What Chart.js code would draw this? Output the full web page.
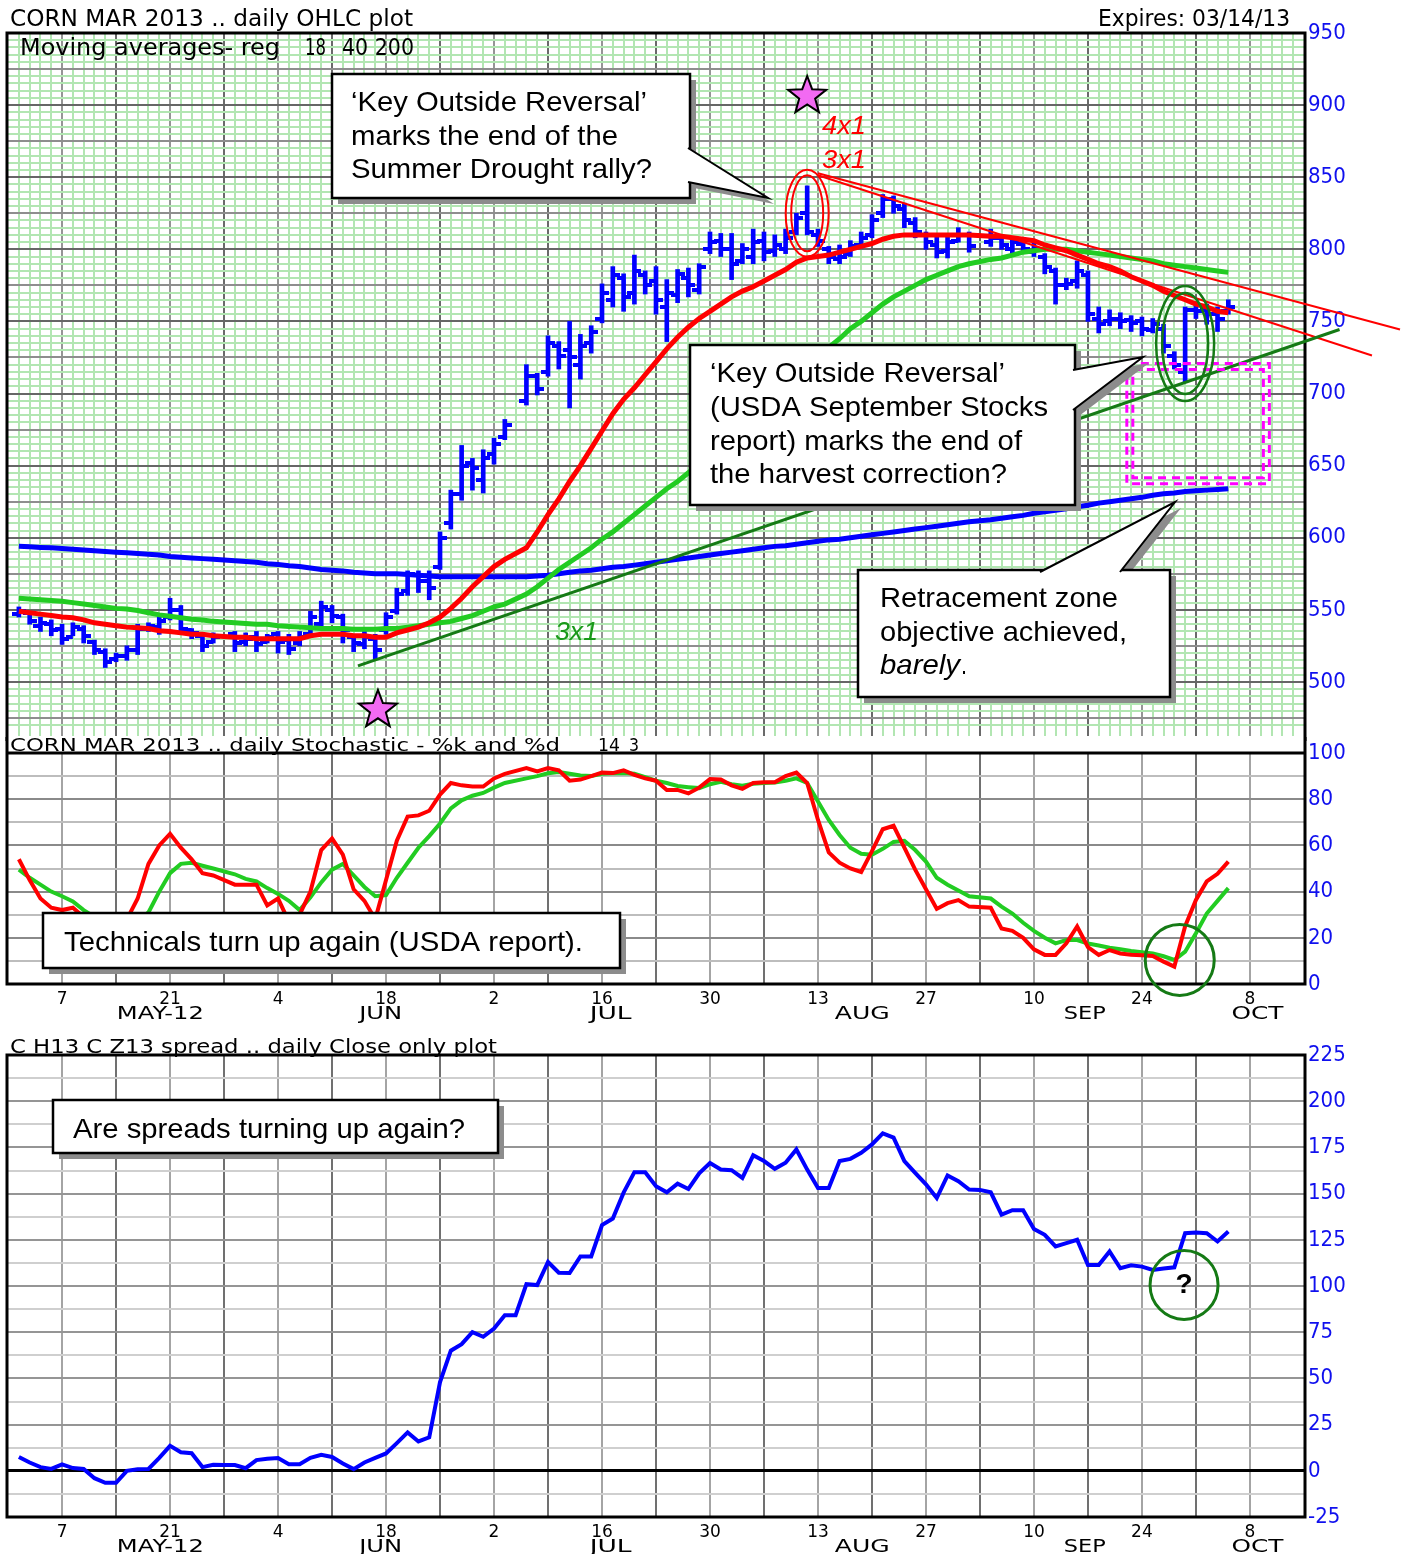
<!DOCTYPE html>
<html>
<head>
<meta charset="utf-8">
<title>Corn Mar 2013</title>
<script src="https://cdn.jsdelivr.net/npm/chart.js@4.4.1/dist/chart.umd.min.js"></script>
<style>
  html, body { margin: 0; padding: 0; background: #fff; }
  .panel { position: absolute; left: 0; width: 1406px; }
</style>
</head>
<body>
<div class="panel" style="top:0;height:741px"><canvas id="price"></canvas></div>
<div class="panel" style="top:737px;height:288px"><canvas id="stoch"></canvas></div>
<div class="panel" style="top:1030px;height:524px"><canvas id="spread"></canvas></div>
<script>
// x axis = weekday index, 0 = Mon 7 May 2012; first bar is Tue 1 May
const startIndex = -4;

const highs = [
  552, 549, 545, 543, 540, 541, 539, 529, 523, 520,
  525, 540, 541, 545, 558, 553, 537, 533, 534, null,
  535, 534, 535, 533, 535, 533, 535, 549, 556, 553,
  547, 533, 535, 533, 548, 565, 577, 577, 577, 604,
  633, 664, 655, 661, 669, 682, null, 720, 714, 740,
  736, 750, 741, 747, 776, 788, 783, 796, 785, 788,
  779, 786, 787, 790, 812, 811, 811, 804, 814, 812,
  810, 814, 825, 844, 814, 802, 803, 806, 812, 824,
  838, 837, 832, 822, 812, 809, 809, 815, 812, null,
  814, 810, 808, 806, 805, 797, 787, 780, 792, 785,
  760, 758, 756, 754, 753, 752, 748, 729, 760, 762,
  762, 760, 765
];
const lows = [
  545, 540, 535, 532, 526, 532, 527, 519, 510, 514,
  515, 519, 535, 533, 543, 533, 530, 521, 527, null,
  521, 525, 521, 527, 520, 519, 525, 531, 538, 541,
  527, 521, 523, 516, 533, 547, 560, 562, 557, 578,
  606, 626, 633, 631, 651, 668, null, 692, 699, 712,
  717, 690, 710, 728, 749, 760, 757, 762, 769, 755,
  736, 763, 767, 769, 797, 795, 779, 790, 790, 792,
  795, 797, 810, 810, 802, 790, 790, 795, 801, 808,
  822, 825, 815, 808, 800, 794, 794, 805, 798, null,
  802, 800, 797, 798, 795, 783, 762, 772, 773, 750,
  742, 747, 745, 743, 740, 742, 728, 717, 708, 752,
  748, 743, 755
];
const opens = [
  547, 548, 539, 540, 537, 531, 537, 528, 521, 516,
  518, 522, 537, 538, 545, 550, 536, 532, 528, null,
  533, 528, 531, 528, 533, 529, 527, 533, 540, 550,
  545, 531, 526, 530, 536, 549, 563, 574, 570, 580,
  610, 630, 652, 640, 658, 670, null, 695, 712, 715,
  733, 730, 720, 735, 752, 765, 780, 770, 782, 778,
  760, 768, 780, 772, 800, 806, 800, 792, 795, 806,
  799, 800, 812, 825, 810, 800, 793, 797, 803, 810,
  825, 835, 828, 818, 810, 803, 799, 806, 810, null,
  805, 808, 800, 804, 798, 795, 785, 775, 778, 782,
  752, 750, 752, 751, 750, 744, 745, 726, 715, 758,
  758, 755, 757
];
const closes = [
  549, 542, 541, 536, 530, 538, 532, 522, 514, 518,
  522, 537, 539, 542, 550, 537, 534, 525, 531, null,
  527, 530, 526, 531, 528, 523, 531, 545, 552, 546,
  536, 527, 531, 522, 545, 561, 575, 570, 565, 600,
  630, 650, 648, 655, 665, 678, null, 712, 703, 735,
  726, 725, 733, 743, 770, 782, 767, 785, 775, 765,
  770, 783, 775, 788, 805, 800, 790, 800, 805, 798,
  803, 808, 822, 812, 806, 795, 795, 802, 808, 820,
  835, 830, 820, 812, 805, 798, 805, 810, 802, null,
  808, 803, 805, 800, 800, 788, 775, 776, 785, 755,
  748, 752, 750, 749, 745, 748, 733, 720, 758, 757,
  755, 752, 760
];
const ma18 = [
  549, 548, 547, 546, 545, 544.5, 543, 541, 540, 539,
  538, 537.5, 537, 535.5, 535, 534, 533, 533, 532, null,
  531, 531, 530, 530, 530, 530, 530, 532, 533, 533,
  533, 532, 532, 531, 531, 534, 536, 538, 541, 545,
  551, 558, 566, 573, 580, 585, null, 593, 604, 616,
  627, 639, 650, 662, 674, 686, 696, 704, 713, 722,
  731, 739, 746, 752, 757, 762, 767, 771, 774, 778,
  782, 786, 791, 794, 795, 796, 798, 800, 802, 804,
  807, 809, 810, 810, 810, 810, 810, 810, 810, null,
  809, 809, 808, 807, 806, 803, 801, 799, 796, 793,
  790, 788, 785, 781, 778, 775, 771, 768, 765, 762,
  760, 757, 756
];
const ma40 = [
  558, 557.5, 557, 556.5, 556, 555, 554, 553, 552, 551,
  550.5, 549.5, 548, 546.5, 545.5, 544.5, 543.5, 543, 542, null,
  541, 540.5, 540, 540, 539, 538.5, 538, 537.5, 537, 537,
  537, 536.5, 536.5, 536.5, 537, 537, 538, 539, 540, 541,
  542, 544, 546, 549, 552, 554, null, 561, 566, 572,
  578, 583, 588, 593, 599, 604, 610, 616, 622, 628,
  634, 639, 645, 651, 658, 664, 671, 678, 685, 692,
  699, 706, 713, 720, 726, 732, 738, 745, 750, 756,
  762, 767, 771, 775, 779, 782, 785, 788, 790, null,
  793, 794, 796, 798, 799, 800, 800, 800, 799, 798,
  797, 796, 795, 794, 793, 792, 790, 789, 788, 787,
  786, 785, 784
];
const ma200 = [
  594, 593.7, 593.3, 593, 592.5, 592, 591.5, 591, 590.5, 590,
  589.5, 589, 588.5, 588, 587, 586.5, 586, 585.5, 585, null,
  584, 583.5, 583, 582, 581.5, 580.5, 580, 579, 578, 577.5,
  577, 576, 575.5, 575, 575, 575, 574.5, 574, 573.5, 573,
  573, 573, 573, 573, 573, 573, null, 573, 573.5, 574,
  575, 576, 577, 577.5, 578.5, 579.5, 580, 581, 582, 583,
  584, 585, 586, 587, 588, 589, 590, 591, 592, 593,
  594, 594.5, 595.5, 596.5, 597.5, 598.5, 599, 600, 601, 602,
  603, 604, 605, 606, 607, 608, 609, 610, 611, null,
  612.5, 613.5, 614.5, 615.5, 617, 618, 619, 620, 621.5, 622.5,
  624, 625, 626, 627, 628, 629.5, 630.5, 631, 632, 632.5,
  633, 633.5, 634
];
const stochK = [
  54, 45, 37, 33, 32, 33, 29, 25, 21, 23,
  28, 37, 52, 60, 65, 59, 54, 48, 47, null,
  43, 43, 43, 34, 37, 27, 30, 40, 58, 63,
  56, 41, 36, 28, 45, 62, 72.5, 73, 75, 82,
  87, 86, 85.5, 85.5, 89, 91, null, 93.5, 92, 93.5,
  92.5, 88, 88.5, 90, 91.5, 91.3, 92.5, 90.5, 89, 88,
  84, 84, 82.5, 85, 88.7, 88.5, 86, 84.5, 87, 87.3,
  87.3, 90, 91.5, 87, 71, 57, 52.5, 50, 48.5, 57.5,
  67, 68.5, 59, 49.5, 41, 32.5, 35, 36.3, 33.5, null,
  33, 24, 23, 20, 15, 12.6, 12.6, 17.6, 24.9, 16,
  12.6, 14.7, 13.2, 12.7, 12.4, 12.1, 9.7, 7.5, 25, 36.4,
  44.4, 47.7, 53
];
const stochD = [
  49.5, 46, 43, 40, 38, 35.7, 32, 29, 26, 24,
  24, 27, 31, 40, 48, 52, 52.5, 51.2, 50, null,
  47.5, 45.5, 44.4, 41.5, 39, 36, 32, 37.5, 44, 49.5,
  52, 47, 42, 38, 38.5, 46, 52.5, 59, 64, 69.5,
  76, 79.5, 81.5, 82.7, 85, 87, null, 89, 90, 91.2,
  91.8, 91, 90.3, 90, 91, 91.2, 91.3, 91, 89.5, 88,
  87, 85.7, 85.2, 84.8, 86.5, 87.5, 86.5, 85.8, 86.7, 87,
  87.2, 88, 89, 87, 79, 71, 64.5, 59, 56.4, 56,
  58.5, 61.5, 62, 58, 53, 46, 43, 40.5, 38, null,
  37, 33.5, 30.5, 26.5, 23, 20, 17.6, 19, 19, 17.5,
  16.7, 15.7, 15, 14.3, 13.8, 13.2, 12, 10.4, 14, 22,
  30.5, 36, 41.5
];
const spread = [
  7.5, 4.5, 2, 1, 3.5, 1.5, 1, -4, -6.5, -6.5,
  0, 0.8, 1, 7, 13.5, 10, 9.5, 2, 3.3, 3.2,
  3.1, 1.4, 5.8, 6.5, 6.9, 3.6, 3.6, 7, 8.7, 7.5,
  4, 0.9, 4.5, 7, 9.4, 15, 20.8, 15.9, 18.1, 48,
  65, 68.5, 75, 72.5, 77, 84.2, 84.2, 101, 100.5, 113,
  107.2, 107, 116, 116, 133, 136.5, 150.5, 161.6, 161.6, 154,
  150.7, 155.4, 152.5, 161, 166.5, 163, 162.7, 158.5, 170.7, 167.6,
  163.4, 166.7, 173.9, 163, 153, 153, 167.6, 168.8, 172.1, 176.6,
  182.6, 180.3, 167.6, 161.2, 155, 147.6, 159.8, 156.7, 152.2, 152,
  150.7, 138.6, 141, 141, 130.8, 127.7, 121.4, 123.2, 125, 111.4,
  111.4, 118.7, 109.6, 111.2, 110.5, 108.7, 109.5, 110.1, 128.6, 129,
  128.6, 124.1, 129.5
];

const dayTickAt = [0, 10, 20, 30, 40, 50, 60, 70, 80, 90, 100, 110];
const dayTickText = ['7', '21', '4', '18', '2', '16', '30', '13', '27', '10', '24', '8'];
const monthAt = [9.1, 29.5, 50.8, 74.1, 94.7, 110.7];
const monthText = ['MAY-12', 'JUN', 'JUL', 'AUG', 'SEP', 'OCT'];

Chart.defaults.font.family = '"DejaVu Sans", sans-serif';
Chart.defaults.animation = false;
Chart.defaults.devicePixelRatio = 1;

const toPoints = arr => arr.map((v, k) => ({ x: startIndex + k, y: v }));
const present = arr => toPoints(arr).filter(p => p.y !== null);

const BLUE = '#0000ff', RED = '#ff0000', GREEN = '#22cc22', DKGREEN = '#157a15';
const AXIS_FONT = { family: '"DejaVu Sans Condensed", "DejaVu Sans", sans-serif', size: 22 };
const HEAD = '"DejaVu Sans", sans-serif';
const BOXFONT = '28px "Liberation Sans", Arial, sans-serif';

// ---------- drawing helpers ----------
function fitText(ctx, text, x, y, width, font, color) {
  ctx.save();
  ctx.font = font;
  ctx.fillStyle = color;
  ctx.textAlign = 'left';
  ctx.textBaseline = 'alphabetic';
  const w = ctx.measureText(text).width;
  ctx.translate(x, y);
  ctx.scale(width / w, 1);
  ctx.fillText(text, 0, 0);
  ctx.restore();
}

function poly(ctx, pts) {
  ctx.beginPath();
  pts.forEach((p, k) => (k ? ctx.lineTo(p[0], p[1]) : ctx.moveTo(p[0], p[1])));
  ctx.closePath();
}

function callout(ctx, box, tail, lines) {
  const [x1, y1, x2, y2] = box;
  ctx.save();
  ctx.fillStyle = '#8c8c8c';
  ctx.fillRect(x1 + 6, y1 + 6, x2 - x1, y2 - y1);
  if (tail) {
    poly(ctx, tail.map(p => [p[0] + 6, p[1] + 6]));
    ctx.fill();
  }
  ctx.fillStyle = '#fff';
  ctx.fillRect(x1, y1, x2 - x1, y2 - y1);
  ctx.strokeStyle = '#000';
  ctx.lineWidth = 2.5;
  ctx.strokeRect(x1, y1, x2 - x1, y2 - y1);
  if (tail) {
    poly(ctx, tail);
    ctx.fillStyle = '#fff';
    ctx.fill();
    ctx.beginPath();
    ctx.moveTo(tail[0][0], tail[0][1]);
    ctx.lineTo(tail[1][0], tail[1][1]);
    ctx.lineTo(tail[2][0], tail[2][1]);
    ctx.lineWidth = 2;
    ctx.stroke();
  }
  lines.forEach(l => fitText(ctx, l[0], l[1], l[2], l[3], l[4] || BOXFONT, '#000'));
  ctx.restore();
}

function ring(ctx, cx, cy, rx, ry, color, lw) {
  ctx.beginPath();
  ctx.ellipse(cx, cy, rx, ry, 0, 0, Math.PI * 2);
  ctx.strokeStyle = color;
  ctx.lineWidth = lw;
  ctx.stroke();
}

function star(ctx, cx, cy, R) {
  ctx.beginPath();
  for (let k = 0; k < 10; k++) {
    const ang = -Math.PI / 2 + k * Math.PI / 5;
    const rad = k % 2 ? R * 0.42 : R;
    ctx.lineTo(cx + rad * Math.cos(ang), cy + rad * Math.sin(ang));
  }
  ctx.closePath();
  ctx.fillStyle = '#f26af2';
  ctx.fill();
  ctx.strokeStyle = '#000';
  ctx.lineWidth = 2;
  ctx.stroke();
}

function seg(ctx, x1, y1, x2, y2, color, lw) {
  ctx.beginPath();
  ctx.moveTo(x1, y1);
  ctx.lineTo(x2, y2);
  ctx.strokeStyle = color;
  ctx.lineWidth = lw;
  ctx.stroke();
}

function drawMonths(chart, baseline) {
  const widths = [87, 43, 42, 55, 42, 52];
  const xs = chart.scales.x;
  monthText.forEach((t, k) => {
    const w = widths[k];
    fitText(chart.ctx, t, xs.getPixelForValue(monthAt[k]) - w / 2, baseline, w, '18px ' + HEAD, '#000');
  });
}

function dayLabel(v) {
  const k = dayTickAt.indexOf(v);
  return k >= 0 ? dayTickText[k] : '';
}

function tickImage(side) {
  const c = document.createElement('canvas');
  c.width = 14; c.height = 4;
  const g = c.getContext('2d');
  g.fillStyle = BLUE;
  g.fillRect(side === 'right' ? 7 : 0, 0, 7, 4);
  return c;
}

function weekGrid(c) {
  const v = c.tick.value;
  if (!Number.isInteger(v) || v % 5 !== 0) return 'rgba(0,0,0,0)';
  return Math.abs(v / 5) % 2 === 1 ? '#707070' : '#a4a4a4';
}

// right value axis: fixed width, no extra label padding so the plot fills the panel
function fixRightAxis(s) {
  s.width = 101;
  s.paddingTop = 0;
  s.paddingBottom = 0;
}

function lowerX(height) {
  return {
    type: 'linear', min: -5.1, max: 115.1, offset: false,
    ticks: { stepSize: 5, autoSkip: false, maxRotation: 0, maxTicksLimit: 1000,
      callback: dayLabel, color: '#000', padding: 5, font: { size: 17 } },
    grid: { color: weekGrid, lineWidth: 2, drawTicks: false, offset: false },
    border: { display: false },
    afterFit: s => { s.height = height; }
  };
}

// ---------- price panel ----------
const pricePlugin = {
  id: 'priceNotes',
  afterDraw(chart) {
    const ctx = chart.ctx, a = chart.chartArea;
    const X = v => chart.scales.x.getPixelForValue(v);
    const Y = v => chart.scales.y.getPixelForValue(v);
    ctx.save();
    ctx.strokeStyle = '#000';
    ctx.lineWidth = 3;
    ctx.beginPath();
    ctx.moveTo(a.left, chart.height);
    ctx.lineTo(a.left, a.top);
    ctx.lineTo(a.right, a.top);
    ctx.lineTo(a.right, chart.height);
    ctx.stroke();

    fitText(ctx, 'CORN MAR 2013 .. daily OHLC plot', 10, 26, 403, '23px ' + HEAD, '#000');
    fitText(ctx, 'Expires: 03/14/13', 1098, 26, 192, '23px ' + HEAD, '#000');
    fitText(ctx, 'Moving averages- reg', 20, 55, 260, '23px ' + HEAD, '#000');
    fitText(ctx, '18', 305, 55, 21, '23px ' + HEAD, '#000');
    fitText(ctx, '40 200', 342, 55, 72, '23px ' + HEAD, '#000');

    // trend lines
    seg(ctx, X(70), Y(852.8), X(123.9), Y(744.4), RED, 2);
    seg(ctx, X(70), Y(851.4), X(121.3), Y(726.4), RED, 2);
    seg(ctx, X(27.4), Y(511.1), X(118.3), Y(744.4), DKGREEN, 3);

    // retracement zone
    ctx.setLineDash([8, 6]);
    ctx.strokeStyle = '#ff00ff';
    ctx.lineWidth = 3;
    const rx1 = X(98.6), rx2 = X(111.8), ry1 = Y(720.8), ry2 = Y(637.5);
    ctx.strokeRect(rx1, ry1, rx2 - rx1, ry2 - ry1);
    ctx.strokeRect(rx1 + 6, ry1 + 6, rx2 - rx1 - 12, ry2 - ry1 - 12);
    ctx.setLineDash([]);

    // markers
    ring(ctx, X(69), Y(825), 21.5, 43.5, RED, 2);
    ring(ctx, X(69), Y(825), 16, 38, RED, 2);
    ring(ctx, X(104), Y(734.7), 29, 57.5, DKGREEN, 2.5);
    ring(ctx, X(104), Y(734.7), 23, 50.5, DKGREEN, 2.5);
    star(ctx, X(69), Y(906.3), 20);
    star(ctx, X(29.25), Y(480.6), 20);
    const ital = 'italic 25px "Liberation Sans", Arial, sans-serif';
    fitText(ctx, '4x1', 822, 134, 44, ital, RED);
    fitText(ctx, '3x1', 822, 168, 44, ital, RED);
    fitText(ctx, '3x1', 555, 640, 43, ital, '#1a991a');

    callout(ctx, [332, 74, 690, 198], [[688, 148], [768, 198], [688, 182]], [
      ['\u2018Key Outside Reversal\u2019', 351, 111, 296],
      ['marks the end of the', 351, 145, 267],
      ['Summer Drought rally?', 351, 178, 301]
    ]);
    callout(ctx, [690, 345, 1075, 505], [[1073, 370], [1143, 357], [1073, 410]], [
      ['\u2018Key Outside Reversal\u2019', 710, 382, 295],
      ['(USDA September Stocks', 710, 416, 338],
      ['report) marks the end of', 710, 450, 312],
      ['the harvest correction?', 710, 483, 297]
    ]);
    callout(ctx, [858, 570, 1170, 697], [[1040, 572], [1175, 502], [1120, 572]], [
      ['Retracement zone', 880, 607, 238],
      ['objective achieved,', 880, 641, 247],
      ['barely', 880, 674, 80, 'italic ' + BOXFONT],
      ['.', 961, 674, 6]
    ]);
    ctx.restore();
  }
};

new Chart(document.getElementById('price'), {
  type: 'line',
  data: {
    datasets: [
      { type: 'bar', data: highs.map((h, k) => (h === null ? null : { x: startIndex + k, y: [lows[k], h] })).filter(Boolean),
        backgroundColor: BLUE, barThickness: 4, grouped: false, order: 5 },
      { data: present(opens), showLine: false, pointStyle: tickImage('left'), pointRadius: 3, order: 4 },
      { data: present(closes), showLine: false, pointStyle: tickImage('right'), pointRadius: 3, order: 4 },
      { data: toPoints(ma200), borderColor: BLUE, borderWidth: 5, pointRadius: 0, spanGaps: true, order: 3 },
      { data: toPoints(ma40), borderColor: GREEN, borderWidth: 5, pointRadius: 0, spanGaps: true, order: 2 },
      { data: toPoints(ma18), borderColor: RED, borderWidth: 5, pointRadius: 0, spanGaps: true, order: 1 }
    ]
  },
  options: {
    responsive: true,
    maintainAspectRatio: false,
    events: [],
    layout: { padding: { left: 7, top: 33, right: 0, bottom: 0 } },
    plugins: { legend: { display: false }, tooltip: { enabled: false } },
    scales: {
      x: {
        type: 'linear', min: -5.1, max: 115.1, offset: false,
        ticks: { display: false, stepSize: 1, autoSkip: false, maxTicksLimit: 1000 },
        grid: {
          color: c => {
            const v = c.tick.value;
            if (!Number.isInteger(v)) return 'rgba(0,0,0,0)';
            if (v % 5 === 0) return Math.abs(v / 5) % 2 === 1 ? '#6a6a6a' : '#959595';
            return '#b2e6b2';
          },
          lineWidth: 2, drawTicks: false, offset: false
        },
        border: { display: false },
        afterFit: s => { s.height = 2; }
      },
      y: {
        position: 'right', min: 462.5, max: 950,
        ticks: { stepSize: 5, autoSkip: false, maxTicksLimit: 1000, padding: 3,
          callback: v => (v % 50 === 0 ? String(v) : ''), color: '#1010ee', font: AXIS_FONT },
        grid: {
          color: c => {
            const v = c.tick.value;
            if (v % 25 === 0) return v % 50 === 0 ? '#666666' : '#8e8e8e';
            if (v % 5 === 0) return '#b2e6b2';
            return 'rgba(0,0,0,0)';
          },
          lineWidth: 2, drawTicks: false
        },
        border: { display: false },
        afterFit: fixRightAxis
      }
    }
  },
  plugins: [pricePlugin]
});

// ---------- stochastic panel ----------
const stochPlugin = {
  id: 'stochNotes',
  afterDraw(chart) {
    const ctx = chart.ctx, a = chart.chartArea;
    const X = v => chart.scales.x.getPixelForValue(v);
    const Y = v => chart.scales.y.getPixelForValue(v);
    ctx.save();
    ctx.fillStyle = '#fff';
    ctx.fillRect(a.left, 0, a.right - a.left, a.top - 1);
    ctx.strokeStyle = '#000';
    ctx.lineWidth = 3;
    ctx.beginPath();
    ctx.moveTo(a.left, 0); ctx.lineTo(a.left, a.bottom);
    ctx.lineTo(a.right, a.bottom); ctx.lineTo(a.right, 0);
    ctx.moveTo(a.left, a.top); ctx.lineTo(a.right, a.top);
    ctx.stroke();
    fitText(ctx, 'CORN MAR 2013 .. daily Stochastic - %k and %d', 10, 14, 550, '18px ' + HEAD, '#000');
    fitText(ctx, '14', 598, 14, 22, '18px ' + HEAD, '#000');
    fitText(ctx, '3', 629, 14, 10, '18px ' + HEAD, '#000');
    drawMonths(chart, 282);
    callout(ctx, [43, 176, 620, 231], null, [
      ['Technicals turn up again (USDA report).', 64, 214, 519]
    ]);
    ring(ctx, X(103.5), Y(10.4), 34.5, 35.5, DKGREEN, 3);
    ctx.restore();
  }
};

new Chart(document.getElementById('stoch'), {
  type: 'line',
  data: {
    datasets: [
      { data: toPoints(stochD), borderColor: GREEN, borderWidth: 4, pointRadius: 0, spanGaps: true, order: 2 },
      { data: toPoints(stochK), borderColor: RED, borderWidth: 4, pointRadius: 0, spanGaps: true, order: 1 }
    ]
  },
  options: {
    responsive: true,
    maintainAspectRatio: false,
    events: [],
    layout: { padding: { left: 7, top: 16, right: 0, bottom: 0 } },
    plugins: { legend: { display: false }, tooltip: { enabled: false } },
    scales: {
      x: lowerX(41),
      y: {
        position: 'right', min: 0, max: 100,
        ticks: { stepSize: 10, autoSkip: false, padding: 3,
          callback: v => (v % 20 === 0 ? String(v) : ''), color: '#1010ee', font: AXIS_FONT },
        grid: { color: c => (c.tick.value % 20 === 0 ? '#8a8a8a' : '#bdbdbd'), lineWidth: 2, drawTicks: false },
        border: { display: false },
        afterFit: fixRightAxis
      }
    }
  },
  plugins: [stochPlugin]
});

// ---------- spread panel ----------
const spreadPlugin = {
  id: 'spreadNotes',
  afterDraw(chart) {
    const ctx = chart.ctx, a = chart.chartArea;
    const X = v => chart.scales.x.getPixelForValue(v);
    const Y = v => chart.scales.y.getPixelForValue(v);
    ctx.save();
    ctx.strokeStyle = '#000';
    ctx.lineWidth = 3;
    ctx.strokeRect(a.left, a.top, a.right - a.left, a.bottom - a.top);
    fitText(ctx, 'C H13 C Z13 spread .. daily Close only plot', 10, 23, 487, '19px ' + HEAD, '#000');
    drawMonths(chart, 522);
    callout(ctx, [53, 70, 498, 123], null, [
      ['Are spreads turning up again?', 73, 108, 392]
    ]);
    ring(ctx, X(103.9), Y(100.6), 34, 34.5, DKGREEN, 3);
    ctx.font = 'bold 28px "Liberation Sans", Arial, sans-serif';
    ctx.fillStyle = '#000';
    ctx.textAlign = 'center';
    ctx.textBaseline = 'middle';
    ctx.fillText('?', X(103.9), Y(100.6));
    ctx.restore();
  }
};

new Chart(document.getElementById('spread'), {
  type: 'line',
  data: {
    datasets: [
      { data: toPoints(spread), borderColor: BLUE, borderWidth: 4, pointRadius: 0, spanGaps: true }
    ]
  },
  options: {
    responsive: true,
    maintainAspectRatio: false,
    events: [],
    layout: { padding: { left: 7, top: 25, right: 0, bottom: 0 } },
    plugins: { legend: { display: false }, tooltip: { enabled: false } },
    scales: {
      x: lowerX(37),
      y: {
        position: 'right', min: -25, max: 225,
        ticks: { stepSize: 12.5, autoSkip: false, padding: 3,
          callback: v => (v % 25 === 0 ? String(v) : ''), color: '#1010ee', font: AXIS_FONT },
        grid: {
          color: c => (c.tick.value === 0 ? '#000' : c.tick.value % 25 === 0 ? '#959595' : '#cfcfcf'),
          lineWidth: c => (c.tick.value === 0 ? 3 : 2), drawTicks: false
        },
        border: { display: false },
        afterFit: fixRightAxis
      }
    }
  },
  plugins: [spreadPlugin]
});
</script>
</body>
</html>
